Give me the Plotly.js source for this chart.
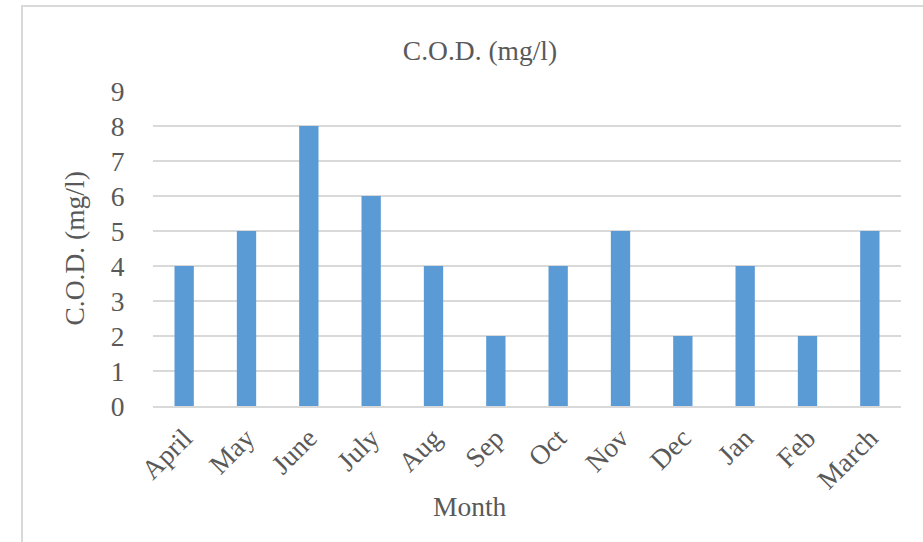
<!DOCTYPE html>
<html>
<head>
<meta charset="utf-8">
<script src="https://cdn.plot.ly/plotly-3.0.1.min.js"></script>
<style>
html, body { margin:0; padding:0; background:#ffffff; width:923px; height:542px; overflow:hidden; }
#frame { position:absolute; left:21px; top:5px; width:1000px; height:700px; border-left:2px solid #d9d9d9; border-top:2px solid #d9d9d9; }
#chart { position:absolute; left:0; top:0; width:923px; height:542px; }
</style>
</head>
<body>
<div id="frame"></div>
<div id="chart"></div>
<script>
const months = ["April","May","June","July","Aug","Sep","Oct","Nov","Dec","Jan","Feb","March"];
const codValues = [4,5,8,6,4,2,4,5,2,4,2,5];
const yTicks = [0,1,2,3,4,5,6,7,8,9];
const chartTitle = 'C.O.D. (mg/l)';
const xTitle = 'Month';
const yTitle = 'C.O.D. (mg/l)';

const fontFam = '"Liberation Serif", "Times New Roman", serif';
const textColor = '#595959';
const fs = 27.5;

const trace = {
  type: 'bar',
  x: months,
  y: codValues,
  marker: { color: '#5b9bd5' },
  hoverinfo: 'x+y'
};

const layout = {
  width: 923,
  height: 542,
  margin: { l:153, r:22, t:91, b:136 },
  paper_bgcolor: 'rgba(0,0,0,0)',
  plot_bgcolor: 'rgba(0,0,0,0)',
  bargap: 0.69,
  showlegend: false,
  font: { family: fontFam, color: textColor, size: fs },
  title: { text: chartTitle, font: { family: fontFam, size: fs, color: textColor }, x: 480/923, xanchor: 'center', xref: 'container', y: 1 - 50/542, yanchor: 'middle', yref: 'container' },
  xaxis: {
    tickangle: -45,
    tickfont: { family: fontFam, size: fs, color: textColor },
    ticks: 'outside', ticklen: 3, tickcolor: 'rgba(0,0,0,0)',
    showline: true, linecolor: '#d9d9d9', linewidth: 2,
    showgrid: false, automargin: false, fixedrange: true
  },
  yaxis: {
    range: [0, 9],
    tickvals: yTicks,
    ticktext: yTicks.map(String),
    tickfont: { family: fontFam, size: fs, color: textColor },
    ticks: 'outside', ticklen: 22, tickcolor: 'rgba(0,0,0,0)',
    showgrid: true, gridcolor: '#d9d9d9', gridwidth: 2,
    zeroline: false, showline: false, automargin: false, fixedrange: true
  },
  annotations: [
    { text: xTitle, xref: 'paper', yref: 'paper', x: (470-153)/748, y: (406-506)/315, xanchor: 'center', yanchor: 'middle', showarrow: false, font: { family: fontFam, size: fs, color: textColor } },
    { text: yTitle, xref: 'paper', yref: 'paper', x: (74-153)/748, y: 0.5, xanchor: 'center', yanchor: 'middle', textangle: -90, showarrow: false, font: { family: fontFam, size: fs, color: textColor } }
  ]
};

Plotly.newPlot('chart', [trace], layout, { displayModeBar: false, staticPlot: true });
</script>
</body>
</html>
